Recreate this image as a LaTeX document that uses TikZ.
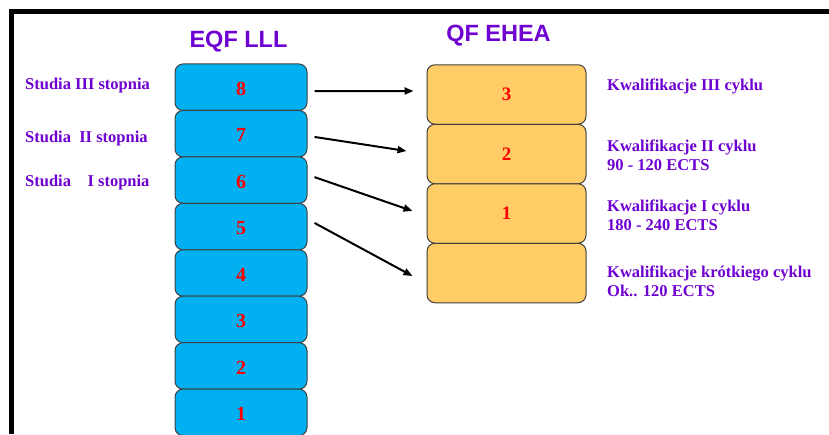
\documentclass[tikz,border=0pt]{standalone}
\usepackage{fontspec}
\setmainfont{Liberation Serif}
\newfontfamily\arialf{Liberation Sans}
\usetikzlibrary{arrows.meta,calc}
\definecolor{purp}{RGB}{110,0,210}
\definecolor{bluebox}{RGB}{0,176,240}
\definecolor{orangebox}{RGB}{255,204,102}
\definecolor{edge}{RGB}{64,64,64}
\tikzset{
  lvl/.style={draw=edge, line width=1pt, fill=bluebox, rounded corners=8pt, minimum width=132pt, minimum height=46.45pt, inner sep=0pt, text=red, font=\bfseries\fontsize{20}{20}\selectfont},
  qf/.style={draw=edge, line width=1pt, fill=orangebox, rounded corners=8pt, minimum width=159pt, minimum height=59.5pt, inner sep=0pt, text=red, font=\bfseries\fontsize{19}{19}\selectfont},
  lab/.style={anchor=west, inner sep=0pt, text=purp, align=left, font=\bfseries\fontsize{16.5}{19}\selectfont},
  ttl/.style={inner sep=0pt, text=purp, font=\arialf\bfseries\fontsize{23.5}{23.5}\selectfont},
  arr/.style={line width=2pt, -{Triangle[length=9pt,width=7pt]}}
}
\begin{document}
\begin{tikzpicture}[x=1pt,y=-1pt]
\clip (0,0) rectangle (829,434);
\fill[white] (0,0) rectangle (829,434);
\fill[black] (9,9) rectangle (829,14);
\fill[black] (9,9) rectangle (14,434);
% titles
\node[ttl] (t1) at (238.5,42) {EQF LLL};
\node[ttl] (t2) at (498.5,35.5) {QF EHEA};
% left stack
\foreach \k in {8,7,6,5,4,3,2,1} {
  \node[lvl, text depth=-3pt] (b\k) at (241,{87.2+(8-\k)*46.45}) {\raisebox{-3pt}{\k}};
}
% right stack
\node[qf] (o3) at (506.5,94.5) {3};
\node[qf] (o2) at (506.5,154) {2};
\node[qf] (o1) at (506.5,213.5) {1};
\node[qf] (os) at (506.5,273) {};
% left labels
\node[lab] (l3) at (25,86) {Studia III stopnia};
\node[lab] (l2) at (25,139) {Studia\ \ II stopnia};
\node[lab] (l1) at (25,183) {Studia\ \ \ \ I stopnia};
% right labels
\node[lab] (r3) at (607,86) {Kwalifikacje III cyklu};
\node[lab] (r2) at (607,155.5) {Kwalifikacje II cyklu\\90 - 120 ECTS};
\node[lab] (r1) at (607,215) {Kwalifikacje I cyklu\\180 - 240 ECTS};
\node[lab] (rs) at (607,281.5) {Kwalifikacje krótkiego cyklu\\Ok.. 120 ECTS};
% arrows
\draw[arr] ($(b8.east)+(7,4)$) -- ($(o3.west)+(-13,-3.5)$);
\draw[arr] ($(b7.east)+(7,3.3)$) -- ($(o2.west)+(-20,-3)$);
\draw[arr] ($(b6.east)+(7,-3)$) -- ($(o1.west)+(-14,-2.5)$);
\draw[arr] ($(b5.east)+(7,-3.6)$) -- ($(os.west)+(-14,3)$);
\end{tikzpicture}
\end{document}
